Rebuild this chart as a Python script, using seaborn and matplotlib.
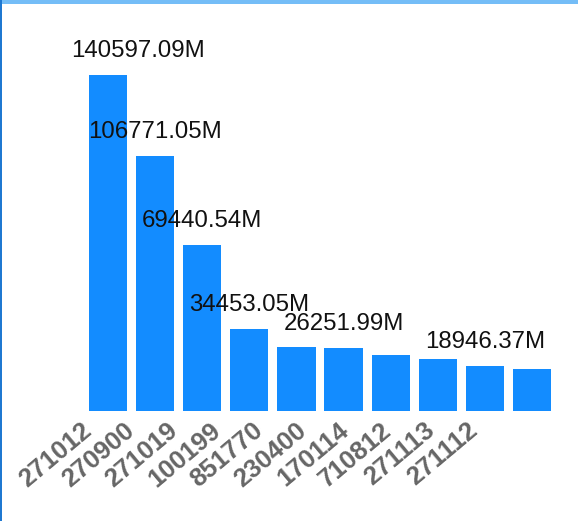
import pandas as pd
import seaborn as sns
import matplotlib.pyplot as plt
from matplotlib.patches import Rectangle
from matplotlib.transforms import ScaledTranslation

# values (million)
codes = ["271012", "270900", "271019", "100199", "851770",
         "230400", "170114", "710812", "271113", "271112"]
values = [140597.09, 106771.05, 69440.54, 34453.05, 26900.0,
          26251.99, 23550.0, 21870.0, 18946.37, 17690.0]
labeled = [0, 1, 2, 3, 5, 8]  # bars that carry a value label

df = pd.DataFrame({"code": codes, "value": values})

sns.set_style("white")
plt.rcParams["font.family"] = ["Liberation Sans", "DejaVu Sans"]

fig = plt.figure(figsize=(5.78, 5.21), dpi=100)
ax = fig.add_axes([0.1462, 0.2111, 0.8149, 0.6449])

sns.barplot(data=df, x="code", y="value", order=codes, color="#138cff",
            saturation=1, width=0.81, linewidth=0, ax=ax)

ax.set_ylim(0, max(values))
ax.set_xlim(-0.5, len(codes) - 0.5)
ax.set_xlabel("")
ax.set_ylabel("")
ax.set_yticks([])
for s in ax.spines.values():
    s.set_visible(False)

# value labels above the bars
for i in labeled:
    dx = 21.6 if i == 0 else 0
    ax.annotate(f"{values[i]:.2f}M", (i, values[i]), xytext=(dx, 13),
                textcoords="offset points", ha="center", va="baseline",
                fontsize=17.3, color="#111111")

# rotated bold category labels
ax.tick_params(axis="x", length=0, pad=0)
ax.set_xticks(range(len(codes)))
ax.set_xticklabels(codes, rotation=40, ha="right", va="top",
                   rotation_mode="anchor", fontsize=18.5,
                   fontweight="bold", color="#666666")
for i, lbl in enumerate(ax.get_xticklabels()):
    shift = ScaledTranslation((-27 - 4.3 * i) / 100, -7 / 100,
                              fig.dpi_scale_trans)
    lbl.set_transform(lbl.get_transform() + shift)

# container borders (top and left)
fig.add_artist(Rectangle((0, 1 - 4 / 521), 1, 4 / 521, transform=fig.transFigure,
                         color="#74bdf7", lw=0))
fig.add_artist(Rectangle((0, 0), 2 / 578, 1, transform=fig.transFigure,
                         color="#1f78d1", lw=0))

fig.savefig("out.png", dpi=100)
